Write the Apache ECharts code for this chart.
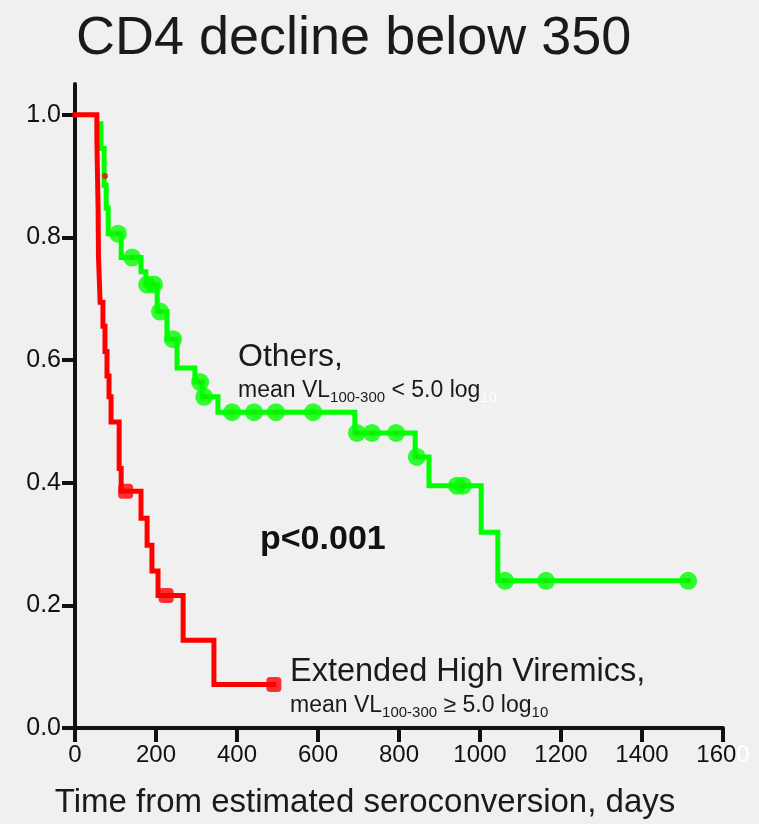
<!DOCTYPE html>
<html>
<head>
<meta charset="utf-8">
<script src="https://cdn.jsdelivr.net/npm/echarts@6/dist/echarts.min.js"></script>
<style>
html,body{margin:0;padding:0;background:#f0f0f0;}
#chart{width:759px;height:824px;}
</style>
</head>
<body>
<div id="chart"></div>
<script>
// ---- data (days, survival proportion) ----
const xTicks = [0, 200, 400, 600, 800, 1000, 1200, 1400, 1600];
const yTicks = [0, 0.2, 0.4, 0.6, 0.8, 1.0];

// Extended High Viremics (red) step curve: [day, survival after step]
const redSteps = [
  [0, 1.0], [54, 0.961], [55, 0.922], [56, 0.885], [57, 0.848], [58, 0.768],
  [62, 0.694], [69, 0.655], [74, 0.614], [79, 0.574], [84, 0.540], [89, 0.499],
  [109, 0.423], [114, 0.386], [163, 0.342], [178, 0.298], [190, 0.256],
  [205, 0.216], [267, 0.143], [343, 0.071], [491, 0.071]
];
const redCensored = [[125, 0.386], [225, 0.216], [491, 0.071]];
const redDot = [[74, 0.90]];

// Others (green) step curve
const greenSteps = [
  [64, 0.985], [64, 0.945], [72, 0.885], [77, 0.848], [82, 0.806], [114, 0.767],
  [163, 0.744], [175, 0.723], [203, 0.679], [227, 0.634], [252, 0.587],
  [296, 0.564], [314, 0.540], [353, 0.515], [691, 0.481], [840, 0.442],
  [874, 0.395], [1003, 0.319], [1044, 0.240], [1514, 0.240]
];
const greenCensored = [
  [106, 0.806], [141, 0.767], [178, 0.723], [195, 0.723], [210, 0.679],
  [242, 0.634], [309, 0.564], [319, 0.540], [388, 0.515], [442, 0.515],
  [496, 0.515], [588, 0.515], [696, 0.481], [733, 0.481], [793, 0.481],
  [844, 0.442], [943, 0.395], [958, 0.395], [1062, 0.240], [1163, 0.240],
  [1514, 0.240]
];

const FONT = "'Liberation Sans', Arial, Helvetica, sans-serif";
const INK = '#111111';
const GREEN = '#00ff00';
const RED = '#ff0000';

const chart = echarts.init(document.getElementById('chart'), null, {renderer: 'canvas'});

const greenDot = {
  type: 'radial', x: 0.5, y: 0.5, r: 0.5,
  colorStops: [
    {offset: 0, color: '#2fd000'},
    {offset: 0.25, color: '#10f000'},
    {offset: 0.5, color: GREEN},
    {offset: 1, color: GREEN}
  ]
};

const option = {
  backgroundColor: '#f0f0f0',
  animation: false,
  title: {
    text: 'CD4 decline below 350',
    left: 71, top: 7,
    textStyle: {fontFamily: FONT, fontSize: 54, fontWeight: 'normal', color: '#1a1a1a'}
  },
  grid: {left: 75, right: 36, top: 84, bottom: 91, containLabel: false},
  xAxis: {
    type: 'value', min: 0, max: 1600, interval: 200,
    name: 'Time from estimated seroconversion, days',
    nameLocation: 'middle', nameGap: 58,
    nameTextStyle: {fontFamily: FONT, fontSize: 33, color: '#1a1a1a', padding: [0, 68, 0, 0]},
    axisLine: {show: true, onZero: false, lineStyle: {color: INK, width: 4}},
    axisTick: {show: true, length: 14, lineStyle: {color: INK, width: 4}},
    axisLabel: {
      margin: 15, fontFamily: FONT, fontSize: 24, color: INK,
      formatter: function (v) { return v === 1600 ? '{k|160}{w|0}' : String(v); },
      rich: {k: {color: INK, fontFamily: FONT, fontSize: 24}, w: {color: '#ffffff', fontFamily: FONT, fontSize: 24}}
    },
    splitLine: {show: false}
  },
  yAxis: {
    type: 'value', min: 0, max: 1.05, interval: 0.2,
    axisLine: {show: true, onZero: false, lineStyle: {color: INK, width: 4}},
    axisTick: {show: true, length: 13, lineStyle: {color: INK, width: 4}, customValues: yTicks},
    axisLabel: {
      margin: 14, fontFamily: FONT, fontSize: 25, color: INK, customValues: yTicks,
      formatter: function (v) { return v.toFixed(1); }
    },
    splitLine: {show: false}
  },
  series: [
    {
      name: 'Others', type: 'line', step: 'end', data: greenSteps,
      showSymbol: false, symbol: 'none', z: 2,
      lineStyle: {color: GREEN, width: 5, cap: 'square', join: 'miter'}
    },
    {
      name: 'Others censored', type: 'scatter', data: greenCensored,
      symbol: 'circle', symbolSize: 18, z: 3,
      itemStyle: {color: greenDot}
    },
    {
      name: 'Extended High Viremics', type: 'line', step: 'end', data: redSteps,
      showSymbol: false, symbol: 'none', z: 4,
      lineStyle: {color: RED, width: 5, cap: 'square', join: 'miter'}
    },
    {
      name: 'EHV censored', type: 'scatter', data: redCensored,
      symbol: 'roundRect', symbolSize: 15, z: 5,
      itemStyle: {color: RED}
    },
    {
      name: 'EHV mark', type: 'scatter', data: redDot,
      symbol: 'circle', symbolSize: 6, z: 5,
      itemStyle: {color: RED}
    }
  ],
  graphic: [
    {
      type: 'text', left: 238, top: 341, z: 10,
      style: {text: 'Others,', font: '32px ' + FONT, fill: '#1a1a1a'}
    },
    {
      type: 'text', left: 238, top: 379, z: 10,
      style: {
        text: '{b|mean VL}{s|100-300}{b| < 5.0 log}{w|10}',
        rich: {
          b: {fontFamily: FONT, fontSize: 23, lineHeight: 30, fill: '#1a1a1a', verticalAlign: 'middle'},
          s: {fontFamily: FONT, fontSize: 15, lineHeight: 9, fill: '#1a1a1a', verticalAlign: 'bottom'},
          w: {fontFamily: FONT, fontSize: 15, lineHeight: 9, fill: '#ffffff', verticalAlign: 'bottom'}
        }
      }
    },
    {
      type: 'text', left: 260, top: 523, z: 10,
      style: {text: 'p<0.001', font: 'bold 34px ' + FONT, fill: '#111111'}
    },
    {
      type: 'text', left: 290, top: 656, z: 10,
      style: {text: 'Extended High Viremics,', font: '32.5px ' + FONT, fill: '#1a1a1a'}
    },
    {
      type: 'text', left: 290, top: 694, z: 10,
      style: {
        text: '{b|mean VL}{s|100-300}{b| \u2265 5.0 log}{s|10}',
        rich: {
          b: {fontFamily: FONT, fontSize: 23, lineHeight: 30, fill: '#1a1a1a', verticalAlign: 'middle'},
          s: {fontFamily: FONT, fontSize: 15, lineHeight: 9, fill: '#1a1a1a', verticalAlign: 'bottom'}
        }
      }
    }
  ]
};
chart.setOption(option);
</script>
</body>
</html>
